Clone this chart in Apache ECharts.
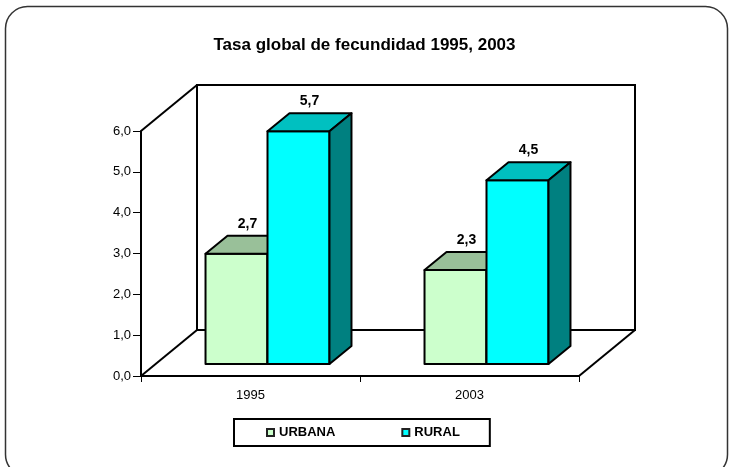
<!DOCTYPE html>
<html>
<head>
<meta charset="utf-8">
<script src="https://cdn.jsdelivr.net/npm/echarts@6/dist/echarts.min.js"></script>
<style>
  html, body { margin: 0; padding: 0; background: #fff; }
  #chart { width: 729px; height: 467px; }
</style>
</head>
<body>
<div id="chart"></div>
<script>
// datos
var years = ['1995', '2003'];
var urbana = [2.7, 2.3];
var rural = [5.7, 4.5];
var yTicks = [0, 1, 2, 3, 4, 5, 6];

var chart = echarts.init(document.getElementById('chart'));

// profundidad del "3D" (px)
var WALL_DX = 56, WALL_DY = -46;
var FACE_DX = 17, FACE_DY = -12;
var BAR_DX = 22, BAR_DY = -18;

function fmt(v) {
  return v.toFixed(1).replace('.', ',');
}

// paredes y piso
function renderWalls(params, api) {
  var cs = params.coordSys;
  var x = cs.x, y = cs.y, w = cs.width, h = cs.height;
  var line = { stroke: '#000', lineWidth: 2, fill: null };
  return {
    type: 'group',
    children: [
      { type: 'rect', shape: { x: x + WALL_DX, y: y + WALL_DY, width: w, height: h }, style: line },
      { type: 'line', shape: { x1: x, y1: y, x2: x + WALL_DX, y2: y + WALL_DY }, style: line },
      { type: 'line', shape: { x1: x, y1: y + h, x2: x + WALL_DX, y2: y + h + WALL_DY }, style: line },
      { type: 'line', shape: { x1: x + w, y1: y + h, x2: x + w + WALL_DX, y2: y + h + WALL_DY }, style: line }
    ]
  };
}

function makeBar(offset, front, top, side) {
  return function (params, api) {
    var cat = api.value(0);
    var val = api.value(1);
    var pTop = api.coord([cat, val]);
    var pBase = api.coord([cat, 0]);
    var band = api.size([1, 0])[0];
    var bw = band * 0.283;
    var x0 = pTop[0] + FACE_DX + offset * bw;
    var ty = pTop[1] + FACE_DY;
    var by = pBase[1] + FACE_DY;
    var st = { stroke: '#000', lineWidth: 2, lineJoin: 'round' };
    return {
      type: 'group',
      children: [
        { type: 'rect', shape: { x: x0, y: ty, width: bw, height: by - ty },
          style: Object.assign({ fill: front }, st) },
        { type: 'polygon', shape: { points: [[x0, ty], [x0 + bw, ty], [x0 + bw + BAR_DX, ty + BAR_DY], [x0 + BAR_DX, ty + BAR_DY]] },
          style: Object.assign({ fill: top }, st) },
        { type: 'polygon', shape: { points: [[x0 + bw, ty], [x0 + bw + BAR_DX, ty + BAR_DY], [x0 + bw + BAR_DX, by + BAR_DY], [x0 + bw, by]] },
          style: Object.assign({ fill: side }, st) },
        { type: 'text', x: x0 + bw / 2 + BAR_DX / 2, y: ty + BAR_DY - 12,
          style: { text: fmt(val), fill: '#000', font: 'bold 14px Arial, "Liberation Sans", sans-serif', align: 'center', verticalAlign: 'middle' } }
      ]
    };
  };
}

var option = {
  backgroundColor: '#fff',
  animation: false,
  title: {
    text: 'Tasa global de fecundidad 1995, 2003',
    left: 'center',
    top: 37,
    padding: 0,
    textStyle: { fontSize: 17, fontWeight: 'bold', color: '#000', fontFamily: 'Arial, "Liberation Sans", sans-serif' }
  },
  graphic: [{
    type: 'rect',
    shape: { x: 5.5, y: 6.5, width: 722, height: 470, r: 22 },
    style: { fill: null, stroke: '#333', lineWidth: 1.5 },
    z: 100
  }],
  legend: {
    data: ['URBANA', 'RURAL'],
    left: 234,
    top: 419,
    padding: [7, 30, 7, 32],
    itemGap: 66,
    itemWidth: 7,
    itemHeight: 7,
    icon: 'rect',
    borderColor: '#000',
    borderWidth: 2,
    backgroundColor: '#fff',
    itemStyle: { borderColor: '#222', borderWidth: 2 },
    textStyle: { fontSize: 13, fontWeight: 'bold', color: '#000', fontFamily: 'Arial, "Liberation Sans", sans-serif' }
  },
  grid: { left: 141, right: 150, top: 131, bottom: 91 },
  xAxis: {
    type: 'category',
    data: years,
    axisLine: { lineStyle: { color: '#000', width: 2 } },
    axisTick: { show: true, length: 6, lineStyle: { color: '#000' } },
    axisLabel: { margin: 13, fontSize: 13, color: '#000', fontFamily: 'Arial, "Liberation Sans", sans-serif' }
  },
  yAxis: {
    type: 'value',
    min: yTicks[0],
    max: yTicks[yTicks.length - 1],
    interval: 1,
    splitLine: { show: false },
    axisLine: { show: true, lineStyle: { color: '#000', width: 2 } },
    axisTick: { show: true, length: 8, lineStyle: { color: '#000' } },
    axisLabel: { margin: 10, fontSize: 13, color: '#000', fontFamily: 'Arial, "Liberation Sans", sans-serif', formatter: fmt }
  },
  series: [
    {
      type: 'custom',
      name: 'walls',
      z: 1,
      silent: true,
      data: [[0, 0]],
      renderItem: renderWalls
    },
    {
      type: 'custom',
      name: 'URBANA',
      z: 3,
      itemStyle: { color: '#CCFFCC' },
      encode: { x: 0, y: 1 },
      data: years.map(function (y, i) { return [i, urbana[i]]; }),
      renderItem: makeBar(-1, '#CCFFCC', '#99C099', '#669966')
    },
    {
      type: 'custom',
      name: 'RURAL',
      z: 4,
      itemStyle: { color: '#00FFFF' },
      encode: { x: 0, y: 1 },
      data: years.map(function (y, i) { return [i, rural[i]]; }),
      renderItem: makeBar(0, '#00FFFF', '#00C0C0', '#008080')
    }
  ]
};

chart.setOption(option);
</script>
</body>
</html>
